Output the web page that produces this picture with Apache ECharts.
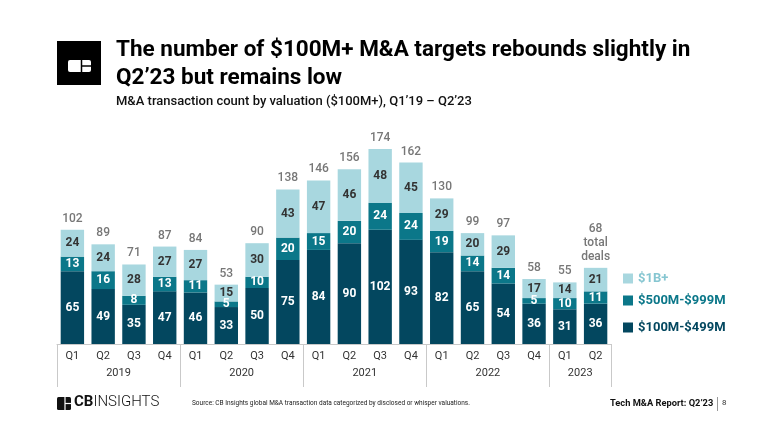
<!DOCTYPE html>
<html><head><meta charset="utf-8">
<script src="https://cdn.jsdelivr.net/npm/echarts@6/dist/echarts.min.js"></script>
<style>html,body{margin:0;padding:0;background:#fff}#c{width:768px;height:432px}</style>
</head><body><div id="c"></div>
<script>
const quarters = ['Q1','Q2','Q3','Q4','Q1','Q2','Q3','Q4','Q1','Q2','Q3','Q4','Q1','Q2','Q3','Q4','Q1','Q2'];
const years = ['2019','2020','2021','2022','2023'];
const quartersPerYear = [4,4,4,4,2];
const s100to499 = [65,49,35,47,46,33,50,75,84,90,102,93,82,65,54,36,31,36];
const s500to999 = [13,16,8,13,11,5,10,20,15,20,24,24,19,14,14,5,10,11];
const s1Bplus   = [24,24,28,27,27,15,30,43,47,46,48,45,29,20,29,17,14,21];
const totals    = [102,89,71,87,84,53,90,138,146,156,174,162,130,99,97,58,55,68];

const C_DARK = '#03475f', C_MID = '#0b7789', C_LIGHT = '#a8d7df';

// year boundaries / centres derived from quarter counts
const bounds = [0]; quartersPerYear.forEach(n => bounds.push(bounds[bounds.length-1] + n));
const centres = years.map((y,i) => (bounds[i] + bounds[i+1]) / 2);
const yearAt = {}; centres.forEach((c,i) => yearAt[c] = years[i]);

const chart = echarts.init(document.getElementById('c'), null, {renderer:'canvas'});
const FONT = 'Roboto';
const inLabel = (color) => ({show:true, position:'inside', color:color, fontFamily:FONT, fontWeight:'bold', fontSize:12});

chart.setOption({
  animation:false,
  textStyle:{fontFamily:FONT},
  grid:{left:57, right:157, top:120, bottom:88, containLabel:false},
  xAxis:[{
    type:'category', data:quarters, gridIndex:0, position:'bottom',
    axisLine:{show:true, lineStyle:{color:'#c9c9c9', width:1}},
    axisTick:{show:false},
    axisLabel:{color:'#333', fontSize:11, margin:7, fontFamily:FONT}
  },{
    type:'value', min:0, max:bounds[bounds.length-1], gridIndex:0, position:'bottom',
    axisLine:{show:false}, splitLine:{show:false},
    axisTick:{show:true, customValues:bounds, length:43, lineStyle:{color:'#c9c9c9', width:1}},
    axisLabel:{show:true, customValues:centres, formatter:v => yearAt[v] || '', color:'#333', fontSize:11, margin:24, fontFamily:FONT}
  }],
  yAxis:{type:'value', min:0, max:200, show:false},
  legend:[
    {data:[{name:'$1B+', textStyle:{color:'#86c6d1'}}], left:618, top:267, orient:'vertical', itemWidth:10, itemHeight:10, icon:'rect', textStyle:{fontSize:13, fontWeight:'bold', fontFamily:FONT}},
    {data:[{name:'$500M-$999M', textStyle:{color:C_MID}}], left:618, top:289, orient:'vertical', itemWidth:10, itemHeight:10, icon:'rect', textStyle:{fontSize:13, fontWeight:'bold', fontFamily:FONT}},
    {data:[{name:'$100M-$499M', textStyle:{color:C_DARK}}], left:618, top:316, orient:'vertical', itemWidth:10, itemHeight:10, icon:'rect', textStyle:{fontSize:13, fontWeight:'bold', fontFamily:FONT}}
  ],
  series:[
    {name:'$100M-$499M', type:'bar', stack:'a', barWidth:'76%', data:s100to499, itemStyle:{color:C_DARK}, label:inLabel('#fff')},
    {name:'$500M-$999M', type:'bar', stack:'a', data:s500to999, itemStyle:{color:C_MID}, label:inLabel('#fff')},
    {name:'$1B+', type:'bar', stack:'a', data:s1Bplus, itemStyle:{color:C_LIGHT}, label:inLabel('#333')},
    {name:'total', type:'bar', stack:'a', data:totals.map(() => 0), itemStyle:{color:'transparent'},
      label:{show:true, position:'top', distance:4, color:'#777', fontSize:12, fontWeight:500, lineHeight:14, fontFamily:FONT,
        formatter:p => p.dataIndex === totals.length-1 ? totals[p.dataIndex] + '\ntotal\ndeals' : String(totals[p.dataIndex])}}
  ],
  graphic:[
    {type:'rect', shape:{x:57, y:41, width:44, height:44}, style:{fill:'#000'}},
    {type:'rect', shape:{x:68, y:60, width:23, height:12, r:2}, style:{fill:'#fff'}},
    {type:'line', shape:{x1:81.5, y1:60, x2:81.5, y2:72}, style:{stroke:'#000', lineWidth:1.5}},
    {type:'line', shape:{x1:81.5, y1:66, x2:91, y2:66}, style:{stroke:'#000', lineWidth:1.5}},
    {type:'text', left:116, top:36, style:{text:'The number of $100M+ M&A targets rebounds slightly in\nQ2\u201923 but remains low', font:'bold 22.5px Roboto', fill:'#000', lineHeight:28}},
    {type:'text', left:116, top:95, style:{text:'M&A transaction count by valuation ($100M+), Q1\u201919 \u2013 Q2\u201923', font:'500 13px Roboto', fill:'#111'}},
    // footer
    {type:'rect', shape:{x:57, y:397, width:14, height:13, r:1.5}, style:{fill:'#111'}},
    {type:'line', shape:{x1:65, y1:397, x2:65, y2:410}, style:{stroke:'#fff', lineWidth:1.2}},
    {type:'line', shape:{x1:65, y1:403.5, x2:71, y2:403.5}, style:{stroke:'#fff', lineWidth:1.2}},
    {type:'text', left:74, top:395, style:{text:'{b|CB}{l|INSIGHTS}', rich:{b:{font:'bold 15px Roboto', fill:'#111'}, l:{font:'300 15px Roboto', fill:'#111'}}}},
    {type:'text', left:192, top:400, style:{text:'Source: CB Insights global M&A transaction data categorized by disclosed or whisper valuations.', font:'6.5px Roboto', fill:'#222'}},
    {type:'text', left:610, top:399, style:{text:'Tech M&A Report: Q2\u201923', font:'bold 9.3px Roboto', fill:'#111'}},
    {type:'line', shape:{x1:717.5, y1:397, x2:717.5, y2:411}, style:{stroke:'#999', lineWidth:1}},
    {type:'text', left:722, top:399, style:{text:'8', font:'8px Roboto', fill:'#333'}}
  ]
});
</script></body></html>
